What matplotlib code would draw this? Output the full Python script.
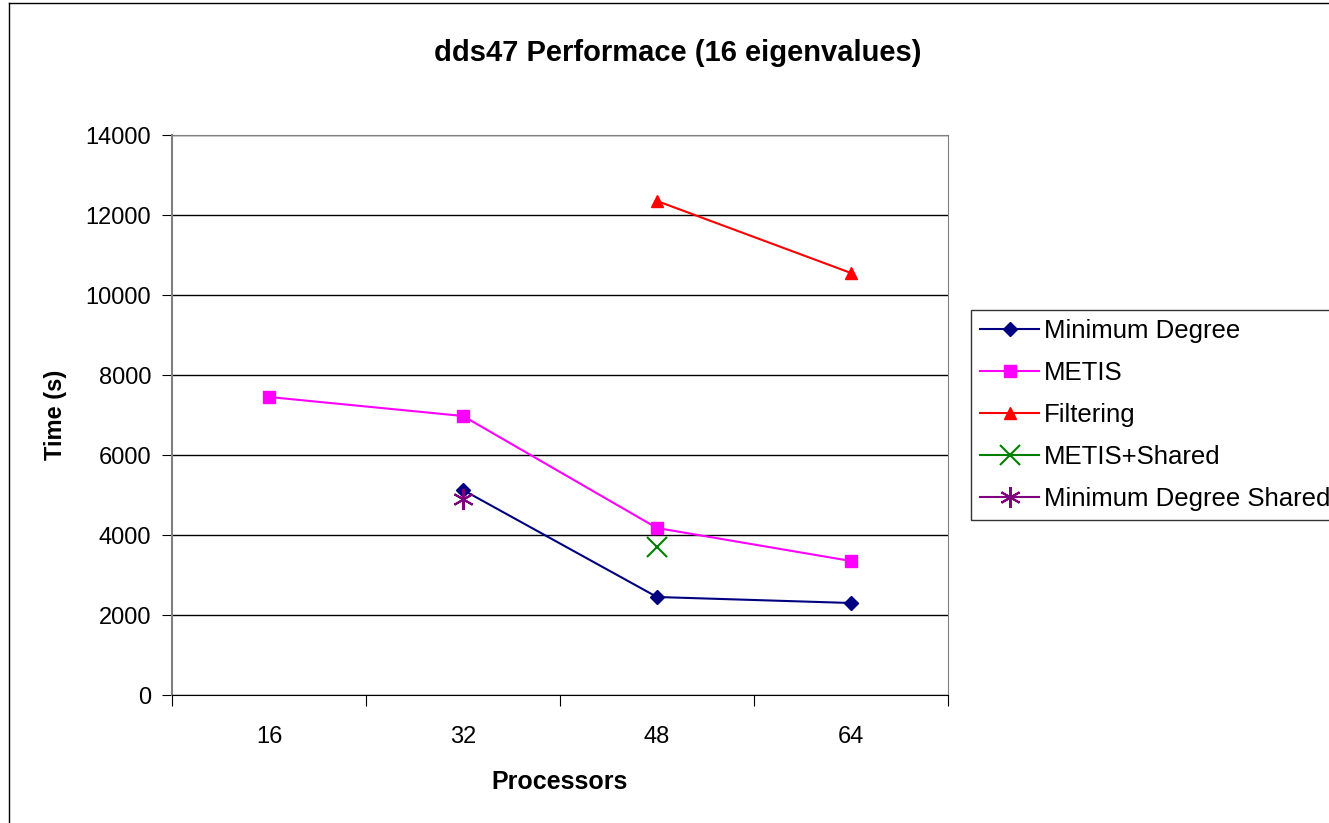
import numpy as np
import matplotlib.pyplot as plt
from matplotlib.lines import Line2D

plt.rcParams['font.family'] = ['Liberation Sans', 'DejaVu Sans']

categories = ['16', '32', '48', '64']
min_degree = [np.nan, 5125, 2450, 2300]
metis = [7450, 6975, 4175, 3350]
filtering = [np.nan, np.nan, 12350, 10550]
metis_shared = [np.nan, np.nan, 3700, np.nan]
min_degree_shared = [np.nan, 4900, np.nan, np.nan]

fig = plt.figure(figsize=(13.29, 8.23), dpi=100)
ax = fig.add_axes([172 / 1329, 1 - 695 / 823, 776 / 1329, 560 / 823])

x = np.arange(len(categories))
ax.plot(x, min_degree, color='#000080', marker='D', markersize=7, lw=1.5, label='Minimum Degree')
ax.plot(x, metis, color='#ff00ff', marker='s', markersize=8, lw=1.5, label='METIS')
ax.plot(x, filtering, color='#ff0000', marker='^', markersize=8, lw=1.5, label='Filtering')
ax.plot(x, metis_shared, color='#008000', marker='x', markersize=15, mew=1.5, lw=1.5,
        label='METIS+Shared')
ax.plot(x, min_degree_shared, color='#800080', marker=(6, 2, 0), markersize=15, mew=1.5,
        lw=1.5, label='Minimum Degree Shared')

ax.set_xlim(-0.5, 3.5)
ax.set_ylim(0, 14000)
ax.set_yticks(np.arange(0, 14001, 2000))
ax.set_xticks(x)
ax.set_xticklabels(categories)
ax.set_xticks(np.arange(-0.5, 3.6, 1), minor=True)
ax.tick_params(axis='x', which='major', length=0, labelsize=17, pad=22)
ax.tick_params(axis='x', which='minor', length=8, direction='out', width=0.8)
ax.tick_params(axis='y', length=7, direction='out', labelsize=17, pad=8, width=0.8)
ax.grid(axis='y', color='black', lw=1)
ax.set_axisbelow(True)
for side in ['top', 'right']:
    ax.spines[side].set_color('#808080')
ax.spines['left'].set_color('#808080')
ax.spines['left'].set_linewidth(1.5)
ax.spines['bottom'].set_color('black')

ax.set_xlabel('Processors', fontsize=18, fontweight='bold', labelpad=16)
ax.set_ylabel('Time (s)', fontsize=17, fontweight='bold', labelpad=13)
fig.text(678 / 1329, 1 - 53 / 823, 'dds47 Performace (16 eigenvalues)', fontsize=21,
         fontweight='bold', ha='center', va='center')

leg = ax.legend(loc='upper left', bbox_to_anchor=(971 / 1329, 1 - 310 / 823),
                bbox_transform=fig.transFigure, fontsize=18.5, frameon=True, fancybox=False,
                edgecolor='black', handlelength=2.3, handletextpad=0.2, labelspacing=0.7,
                borderpad=0.35, borderaxespad=0, markerscale=1.0)
leg.get_frame().set_linewidth(1)

# outer chart frame, only top and left edges are visible in the crop
fig.add_artist(Line2D([9 / 1329, 1], [1 - 3 / 823, 1 - 3 / 823], transform=fig.transFigure,
                      color='black', lw=1))
fig.add_artist(Line2D([9 / 1329, 9 / 1329], [0, 1 - 3 / 823], transform=fig.transFigure,
                      color='black', lw=1))

fig.savefig('out.png', dpi=100)
